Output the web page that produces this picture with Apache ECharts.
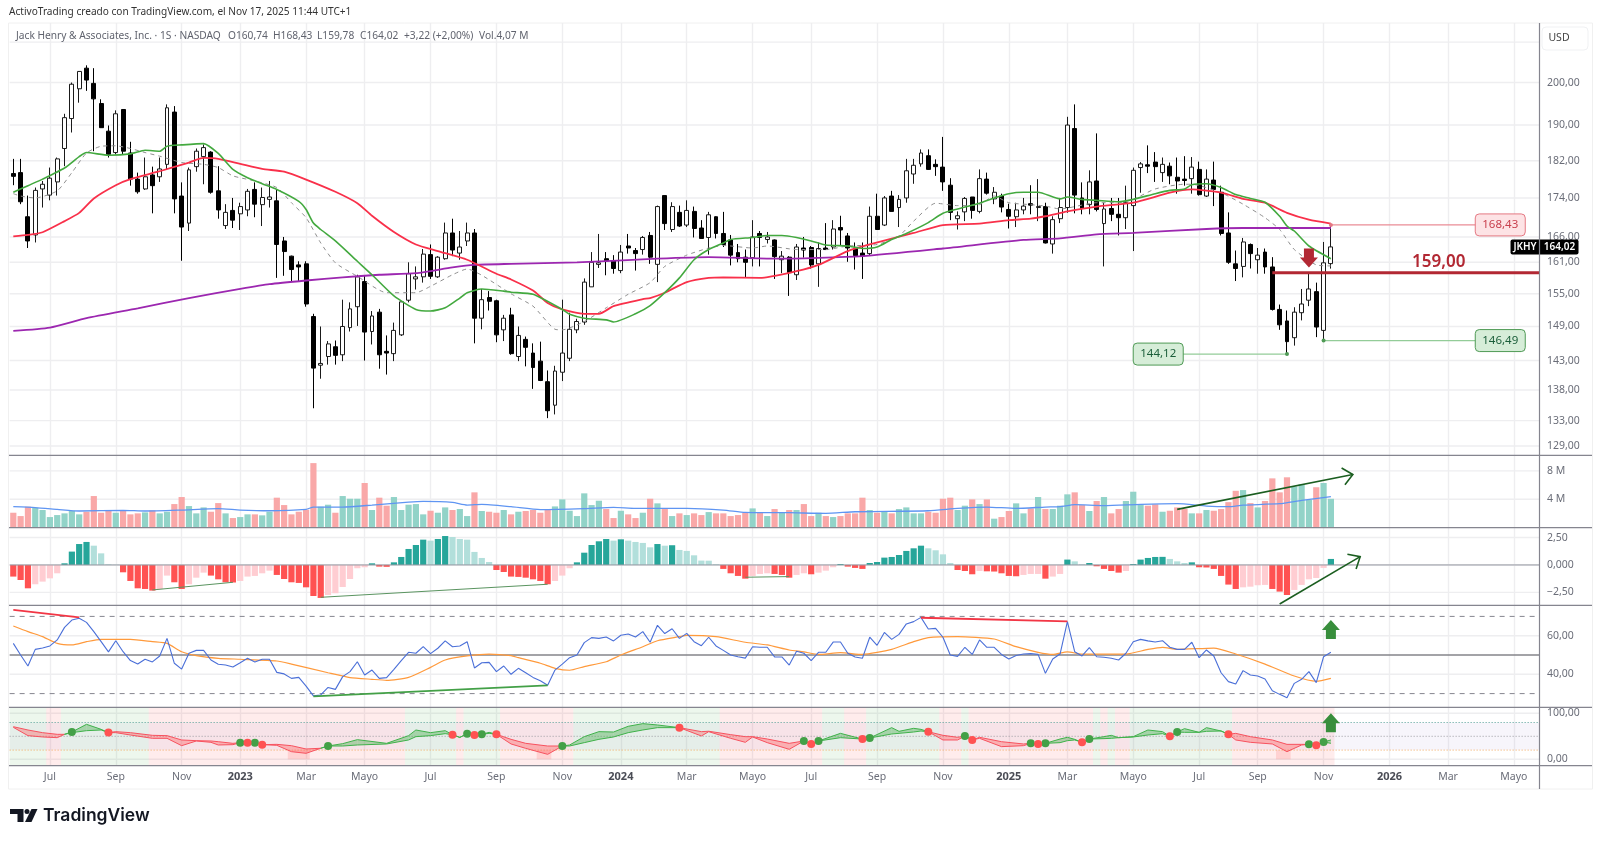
<!DOCTYPE html>
<html>
<head>
<meta charset="utf-8">
<title>JKHY</title>
<style>
html, body { margin: 0; padding: 0; background: #fff; }
#chart { width: 1600px; height: 842px; }
</style>
<script src="https://cdn.jsdelivr.net/npm/echarts@6/dist/echarts.min.js"></script>
</head>
<body>
<div id="chart"></div>
<script>
// weekly candles, one value per week
var open = [179.2,179.4,170.1,166.4,175.9,174.6,177.4,184.7,191.5,198.5,
	203.5,199.8,195,188.6,183.8,193.6,183.7,178,175.9,178.9,
	178.5,181.2,193,174.4,168.8,180.7,182.9,183.9,175.5,168.3,
	171.4,170.7,171.5,175.8,172.6,173.7,173.4,165.2,162.2,160.5,
	160.7,150.8,142.2,143.7,145.4,144,148.8,152.6,157.3,148.1,
	151.6,144.6,144.2,147.5,153.8,157.8,158.2,162.5,158.2,161.7,
	166.8,162.8,165.2,166.8,150.5,154.3,153.7,148.4,151.1,143.7,
	146.7,144.3,142.9,139.4,135.5,141,143.4,148.4,149.8,156.3,
	160.6,161.7,161.3,159.4,164.2,163.3,163.5,166.3,160.6,174.5,
	167.5,171,168.4,171.2,167.8,165.9,170.1,166.7,165.4,162.9,
	162,161.9,166.7,165.5,165.4,161.5,162,158.6,163.8,163.9,
	160.7,163.8,164,167.9,166.2,163.8,162.8,162.7,170.2,168.4,
	174.4,172,174,179.1,181.3,183.1,181.2,180.6,176.7,169.7,
	171.1,174.2,171.2,178,173.8,174.4,171.6,170.1,171.5,172.8,
	172,172.2,164.6,169.7,172,189.2,174,172.6,177.6,168.7,
	171.8,170.6,169.9,172.4,180.5,181.1,181.7,179.4,180.8,178.4,
	178,178.1,180.1,174.4,177.8,175.2,166.8,160.7,160.2,164.5,
	161.5,163,160.1,152.1,150,147,151.5,153.8,155.4,148.3,160.74];
var close = [178.6,173.2,165.2,175.6,176.9,178.2,182.4,191.7,199.6,202.7,
	200.6,196.1,189.4,183.4,192.6,184.1,178,175.3,178.5,176.6,
	180.2,194,173.8,168,180,184.1,184.9,175.2,171.5,171,
	169.4,172.2,175.4,172.7,174.1,174.2,164.5,163.1,159.6,160.1,
	153.1,141.7,142.5,145.9,143.9,149,152.2,158.2,148,150.9,
	144,144.3,148.3,153.5,158.8,158.2,162.6,158.3,162,166.8,
	163.4,164,166.8,150.5,153.9,153.6,147.5,150.5,144.2,147.4,
	145.3,141.8,139.6,134.6,141.2,144.3,148.5,149.9,157.2,161,
	160.9,161.3,159.8,163,163.8,162.7,165.9,162,172.2,168.7,
	172.2,168.2,171.4,167.7,165.7,170.5,166.7,164.5,162.4,161.7,
	161,166,165.9,166,162.1,162.2,159,164,163.4,160.5,
	163.7,163.5,167.6,167.4,163.8,162.3,162.2,170.2,167.5,174,
	171.2,173.7,179.8,181,183.7,180.1,180.7,177.4,171,170.3,
	173.9,171.4,178.1,175,175.2,172.1,170.2,171.5,172.3,172.5,
	172.2,164.8,169.5,172,190,174.6,171.8,177.4,171.6,171.7,
	170.6,169.9,173,179.9,181.3,180.8,180.7,181.2,178.7,177.6,
	177.7,180.6,174.7,178,175.8,166.7,161,159.8,165,162.7,
	162.4,160.1,152.1,149.3,146.3,151.6,153.1,155.9,148.9,160.9,164.02];
var high = [182.4,182.4,174.5,176.2,177.6,180.5,182.7,192.6,200,202.8,
	204.2,203.5,196,189.9,193.4,193.6,186.2,179.4,182.7,180.7,
	182.7,194.8,194.4,177.3,180.5,184.7,185.6,184.1,180.8,172.7,
	174,173,175.9,177.3,176.2,177.6,175.8,166,162.3,161.2,
	161.2,151.3,149,146.4,146.5,153.9,153.4,158.6,158.5,151.8,
	152.2,147.4,149.7,153.6,161,160.2,163.6,164.5,162.2,168.9,
	169.7,167.2,168.9,167.6,155.9,155.5,153.9,151.1,152.4,149,
	147.2,146,146.3,141.3,142.1,153.9,151.5,150.4,157.9,163,
	166.6,163,162.4,164.4,166.6,163.8,166.2,167,172.4,174.5,
	173.1,172.4,173.5,172.2,169.4,171.1,170.2,171.1,166.4,164.6,
	163.5,169.4,167.2,167,165.5,163.2,162.2,164.6,166,164.2,
	164.9,168.8,169.4,170.3,166.8,164.9,164.9,172.2,174.9,174.4,
	175.5,174.6,182.4,182.4,184.5,184.5,182.3,187.3,178.2,171.2,
	174.2,174.2,180.1,179.4,176.3,174.9,172.8,173,174,176.7,
	178,173,170.2,174,191.9,194.8,177.3,179.9,188.1,173,
	174,174,176.6,180.5,181.7,185.4,183.9,182.7,181.6,182.7,
	183,182.8,181.8,180.1,181.8,176.6,171,163.3,165.8,164.7,
	163.8,163.7,162,153,151.9,152.5,155.9,158.9,157.1,165,168.43];
var low = [176.7,172.7,163.8,164.9,172,173.5,174.5,180.8,188.3,195.2,
	198,184.1,189.4,182.7,183.4,183.4,176.6,174.9,175.7,170.8,
	177.4,180.1,170.8,161.3,167.2,179.6,176.9,174.9,169.7,167.6,
	167.8,167.4,170.2,170,168.2,172,158,158.4,157.2,157.4,
	152.6,135,139.9,142.3,142.3,142.9,148.1,149.1,143,145.8,
	141.6,140.6,142.9,147.3,153.4,155.8,157.1,157.8,158,161.5,
	162.2,161.5,164.2,146,148.5,151.9,146.2,146.4,144,142.9,
	142,138.2,139.5,133.4,134,139.5,142.9,147.8,149.3,156.3,
	159.9,158.5,158.8,158.9,162.7,159.4,162.5,160.7,157.2,167.4,
	167,168,168,165.9,165.7,162.5,165.7,164,160.4,161,
	158,160.2,160.2,164.7,157.8,158.9,154.6,157.6,161.9,159.8,
	156.3,163.4,163.5,164.2,161.1,159.6,157.8,162.3,167.5,168.2,
	171.2,168,173,177,180.7,180,178.7,175.5,169.4,167.5,
	169.2,169.7,170.8,174.7,172.7,171,167.7,168,170.6,170.6,
	169.2,164.7,162.7,168.8,170.9,170.8,170.6,170.6,171.2,160.2,
	169.2,166.3,167.6,163.2,175.1,179.3,177.4,177.4,176.9,174.9,
	176.6,174.9,174.5,174.2,172.3,166.3,160.7,157.4,158.1,159.8,
	158.8,158.8,151.9,148.4,144.12,145.6,150.1,152.7,147.1,146.49,159.78];

// moving averages, [week index, price]
var maGreen = [[0,175.2],[2,176.6],[4,178],[7,180.4],[9,182.9],[10,183.8],[13,183.2],[16,183.5],[18,184.3],[20,184.1],[21,185.2],[23,185.5],[26,185.8],[28,183.6],[30,180.1],[32,178.3],[34,177],[36,175.8],[39,173.3],[40,171.6],[41,168.8],[42,167.5],[44,165.2],[47,161.2],[49,158.6],[52,154.6],[55,152.1],[57,151.8],[59,152.4],[61,154.2],[62,155.2],[64,155.9],[67,155.5],[68,155.3],[71,154.9],[75,152.1],[76,151.2],[78,150.5],[81,150.2],[82,149.8],[85,151.3],[87,152.8],[89,155.2],[91,158],[93,161.5],[95,163.5],[97,164.8],[98,165.5],[101,165.9],[103,166.3],[105,166.3],[107,165.9],[109,165.2],[111,164.4],[114,164.2],[116,163.7],[118,164],[120,165.5],[122,166.7],[125,168.9],[127,170.8],[129,171.7],[132,172.9],[134,174],[136,174.9],[138,175.2],[140,175.2],[143,173.8],[144,174.2],[146,173.7],[148,173.5],[151,173.2],[153,173.7],[156,174.9],[158,175.6],[160,175.9],[161,176.8],[163,177],[165,176.2],[167,174.7],[169,173.9],[171,173.1],[173,170.2],[174,168.2],[175,167.2],[177,164.2],[180,161.7]];
var maRed = [[0,166.1],[2,166.4],[4,166.95],[7,169.2],[9,170.9],[11,173.9],[14,176.7],[16,178],[20,179.7],[24,181.6],[26,182.6],[28,182.4],[31,181.3],[34,180.2],[37,179.6],[40,177.9],[44,175.3],[47,172.9],[49,170.3],[52,167],[55,164.5],[58,163.2],[62,161.5],[66,158.8],[68,157.7],[71,155.6],[73,153.3],[75,152.1],[78,151.3],[80,151.3],[82,152.7],[86,154],[87,154.2],[89,155.2],[92,157.2],[95,158],[97,158.1],[102,158],[107,159.3],[110,160.5],[114,163.2],[117,164.5],[123,166.8],[127,168.4],[132,168.7],[136,169.4],[139,169.7],[141,170.2],[144,171.2],[148,172.2],[153,173],[158,175.1],[161,175.8],[165,175.1],[168,173.8],[171,173],[174,170.9],[177,169.5],[180,168.7]];
var maPurple = [[0,148.2],[5,148.8],[10,150.5],[17,152.3],[24,154.2],[31,155.9],[35,156.8],[40,157.5],[45,158.1],[50,158.6],[55,158.9],[60,160],[63,160.5],[68,160.7],[77,161],[88,161.7],[95,162],[104,161.7],[116,162.2],[127,163.7],[138,165.4],[143,165.7],[148,166.5],[153,166.8],[163,167.6],[168,167.8],[180,167.8]];
var maGray = [[0,174.9],[1,174.4],[3,174],[6,175.5],[8,179.4],[10,183.7],[12,185.2],[14,185.3],[16,184.7],[18,183.8],[20,183],[23,181.6],[26,181.2],[28,180.5],[30,178.7],[33,177.6],[36,176.2],[38,173],[40,169.9],[42,164.8],[44,160.9],[47,158.3],[51,155.2],[55,155.2],[57,156.4],[60,158.6],[62,159.7],[64,158.5],[68,155],[71,152.7],[74,148.5],[75,148.4],[78,149.9],[81,152.4],[84,154.9],[87,157.1],[89,160.2],[92,162.4],[95,163.8],[97,164.3],[101,163.8],[103,164.2],[107,163.5],[111,163.5],[114,164.2],[118,164.5],[121,166.2],[123,169.2],[126,172.9],[129,172.4],[132,172.6],[134,174.4],[136,173],[139,172.6],[141,172.3],[143,171.7],[148,173],[151,173],[153,173.7],[156,175.9],[160,176.9],[161,176.9],[165,175.1],[168,172.7],[171,169.9],[173,167.5],[175,163.5],[178,160.5],[180,160.3]];

// volume in millions
var volume = [2.11,1.64,2.96,2.82,2.49,1.5,1.78,2.02,2.39,1.88,
	2.25,4.46,2.11,2.39,2.11,2.39,1.88,2.02,2.16,2.44,
	2.02,2.25,3.33,4.32,3.05,2.02,2.86,2.25,3.47,2.02,
	1.36,1.5,1.88,1.88,1.74,2.25,4.23,3.19,1.88,2.25,
	2.54,9.1,2.96,3.24,2.11,4.46,4.08,4.08,6.3,2.49,
	4.23,3.1,4.32,2.49,3.24,3.33,1.88,2.39,2.11,2.86,
	2.49,2.63,1.64,4.98,2.35,2.25,2.11,2.49,1.88,2.25,
	2.35,2.49,2.11,2.58,3,3.99,2.39,1.64,4.84,3.19,
	3.8,2.63,1.36,2.39,1.88,1.36,2.11,4.08,3.43,2.63,
	1.64,2.02,1.78,2.02,1.78,2.2,2.02,2.02,1.64,1.78,
	2.11,2.72,2.11,1.64,2.63,2.2,2.49,2.49,3.33,1.64,
	2.11,1.64,1.5,1.64,2.02,2.02,4.23,2.49,2.11,2.25,
	2.02,2.63,2.86,2.02,2.02,2.25,2.11,4.08,4.23,2.49,
	3.1,3.99,3.33,3.99,1.27,1.5,2.35,3.43,2.02,2.72,
	4.32,2.63,2.63,3.1,4.7,4.98,3.19,2.35,3.76,4.32,
	2.02,2.63,3.76,5.07,3.29,3.1,3.29,2.25,2.39,2.86,
	2.63,2.02,2.02,2.49,2.39,2.63,3.6,5.2,5.3,3.47,
	2.86,3.76,6.95,4.98,7.1,5.8,6.1,3.9,5.7,6.3,4.07];
var volumeMa = [[0,2.96],[3,2.82],[6,2.58],[9,2.35],[15,2.44],[18,2.35],[23,2.49],[28,2.68],[31,2.49],[35,2.39],[40,2.58],[41,2.91],[45,2.91],[49,3.19],[54,3.6],[56,3.7],[60,3.57],[62,3.19],[64,3.29],[68,2.96],[72,2.54],[78,2.68],[82,2.86],[85,2.72],[92,2.72],[97,2.49],[100,2.16],[106,2.11],[111,2.02],[115,2.25],[125,2.39],[129,2.72],[133,2.91],[137,2.72],[141,2.91],[143,2.96],[145,3.24],[149,3.1],[154,3.29],[159,3.38],[163,3.05],[166,2.96],[168,3.19],[173,3.38],[176,3.85],[180,4.37]];

// MACD histogram
var macdHist = [-1.06,-1.37,-2.13,-1.76,-1.52,-1.22,-0.76,0.15,1.22,1.91,
	2.1,1.76,1.06,0.06,0.02,-0.67,-1.46,-2.13,-2.19,-2.34,
	-2.19,-0.97,-1.58,-2.19,-1.76,-1.16,-0.7,-0.97,-1.31,-1.58,
	-1.6,-1.46,-1.06,-1,-0.76,-0.52,-0.91,-1.28,-1.58,-1.64,
	-2.04,-2.83,-3.01,-2.74,-2.58,-2.01,-1.28,-0.3,-0.21,0.15,
	-0.15,-0.17,0.24,0.73,1.46,1.82,2.31,2.22,2.37,2.64,
	2.55,2.37,2.31,1.19,0.64,0.27,-0.46,-0.64,-1.06,-1.09,
	-1.16,-1.31,-1.46,-1.76,-1.46,-0.97,-0.3,0.24,1.12,1.82,
	2.16,2.37,2.22,2.34,2.22,2.1,2.01,1.61,1.91,1.76,
	1.8,1.37,1.28,0.88,0.4,0.39,0.06,-0.36,-0.76,-1,
	-1.25,-1,-0.82,-0.76,-0.82,-0.91,-1.16,-0.91,-0.76,-0.85,
	-0.7,-0.52,-0.21,0.09,-0.15,-0.27,-0.36,0.18,0.27,0.67,
	0.73,0.91,1.28,1.52,1.76,1.52,1.34,0.97,0.18,-0.46,
	-0.55,-0.85,-0.55,-0.58,-0.6,-0.76,-1,-1.03,-0.91,-0.82,
	-0.82,-1.25,-1.06,-0.82,0.49,0.33,0.06,0.18,-0.12,-0.36,
	-0.55,-0.7,-0.55,0.09,0.49,0.64,0.73,0.74,0.55,0.33,
	0.18,0.24,-0.21,-0.23,-0.36,-1,-1.79,-2.19,-2.04,-1.98,
	-1.85,-1.82,-2.19,-2.43,-2.74,-2.28,-1.82,-1.31,-1.19,-0.27,0.55];

// RSI and its average
var rsi = [56,50,44.3,52.9,53.6,54.7,57.8,64.3,68.1,69,
	66.9,62.1,56.9,51.6,57.4,51.7,47.1,45.3,47.8,46.4,
	49.5,58.6,45.7,42.7,50.9,52.4,52.4,47.4,45.2,44.8,
	43.8,46,48.3,46.4,47.8,47.8,41,40.2,37.9,38.4,
	33.9,28.8,29.3,33.2,32.2,38.8,41.4,46.5,39.6,42.2,
	37.9,38.3,42.6,47.1,51.4,50.9,54.3,50.7,53.5,57.3,
	54.3,54.7,56.9,43.3,46,46.2,41.4,44.3,40,43.1,
	40.8,38.4,36.7,34.3,42.2,45.3,48.6,50,56.4,59,
	58.6,59.3,57.3,60.2,60.9,59.3,62.1,56.6,65.4,61.1,
	63.6,58.6,61.2,56.9,54.8,59.2,54.7,52.4,50,49.1,
	48.4,54.3,54,54,49,49,44.8,51.9,50.9,47.1,
	51.4,51.4,56.7,56.7,50.9,49,48.3,59.2,55,61.7,
	58.1,60.7,66.1,67.3,69.5,63.5,63.8,59.2,50,49.3,
	54,50.3,57.8,54,54,50.3,47.9,49.7,50.5,50.7,
	50.3,40.5,47.9,50.5,67.3,51.7,49.5,53.8,49.1,48.8,
	48.3,47.4,50.9,56.9,58.1,57.3,56.7,57.4,54,52.9,
	52.9,56.6,48.6,52.6,49.5,40.8,36.2,35,41.9,39.6,
	39.1,37.6,31.5,29.6,27.9,35.3,37.4,41.4,35.7,49.1,51.4];
var rsiMa = [[0,65],[2,62.1],[4,59.5],[6,56],[8,55.2],[10,56.9],[12,58.1],[16,58.1],[19,56.9],[21,56],[23,51.7],[25,49.7],[28,48.3],[31,47.8],[36,46.9],[38,45.3],[43,40.8],[46,38.3],[49,37.4],[51,36.9],[54,38.4],[57,43.6],[59,47.4],[62,49.5],[65,50.5],[68,49.7],[69,48.6],[72,45.7],[74,43.1],[76,42.1],[78,44],[81,46.5],[83,50],[86,54.3],[88,57.4],[91,59.5],[92,60.2],[96,59.5],[100,56.6],[103,55.2],[106,52.6],[108,51.6],[110,50.3],[113,51.2],[116,50.3],[120,52.9],[123,56.9],[125,59],[129,59.5],[134,58.3],[137,54.3],[140,51.4],[142,50.3],[144,51.6],[146,50.5],[152,50.5],[155,52.9],[157,54],[159,52.9],[164,53.6],[167,50.5],[171,45.3],[175,39.1],[178,36.4],[180,37.9]];

// stochastic, sampled weeks
var stochIdx = [0,2,4,6,7,8,10,12,13,14,16,19,21,23,25,27,28,30,31,32,33,34,36,38,40,42,43,45,47,51,54,55,57,59,60,61,62,63,64,65,66,68,70,73,75,76,78,80,82,84,86,88,91,94,95,98,100,101,103,106,108,109,110,113,116,117,120,121,123,124,125,127,129,130,131,132,135,138,139,140,141,143,144,145,146,147,149,150,151,153,155,157,158,159,160,162,163,165,166,167,169,172,174,176,177,178,179,180];
var stochK = [69.5,51.4,48.5,47,54.3,59.3,76,65.1,58,57.9,52.8,45.6,45.6,29.6,39.8,36.9,31.1,31.8,36.2,36.2,36.2,31.8,30.4,16.6,13,24,28.9,34,42.7,34.7,51.4,63.7,57.9,62.2,53.6,47.5,55.7,52.8,54.3,58.6,54.3,33.3,23.8,10.8,28.9,31.1,49.2,60.1,59.3,71.7,77.5,74.6,68.8,50.7,60,45.6,36.9,48.5,36.2,21.7,39.8,33.3,39.8,56.4,44,46.3,68.8,60.8,67.3,65.1,59.9,42,42,50.7,42,45.6,27.5,29.6,34.7,33.3,34.7,44.1,47.8,43.4,36.9,44.1,49.2,52.1,47,49.2,63.7,60.1,50,59.3,66.6,58.6,68.8,61.5,54.3,42,36.9,33.3,16.6,31.1,32.5,30.4,37.6,42];
var stochD = [70.9,63.7,57.9,54.3,54.3,58,62.2,63.7,58,60.1,57.9,52.1,51.4,42,40.5,39.8,38.3,34.7,36.2,36.2,36.2,31.8,32.5,29.6,22.4,24,28.9,28.9,31.1,33.3,42,49.2,51.4,55.7,53.6,47.5,55.7,52.8,54.3,56.4,54.3,43.4,34.7,28.9,28.9,28.9,36.2,43.4,48.5,57.9,63.7,68.8,68.8,60.1,61,53.6,49.2,49.2,44.1,34.7,39.8,33.3,39.8,47,44,46.3,55,56.4,59.3,61.5,59.9,52.1,47.8,50.7,42,47.8,38.3,33.3,34.7,33.3,34.7,36.2,40.5,42,36.9,44.1,44.9,45.6,47,48.5,52.8,55.7,50,59.3,58.6,58.6,60.8,61.5,54.3,56.4,49.2,42,32.5,32.5,32.5,30.4,37.6,34.7];
var stochUpCross = [[8,59.3],[31,36.2],[33,36.2],[43,28.9],[62,55.7],[64,54.3],[75,28.9],[108,39.8],[110,39.8],[117,46.3],[130,50.7],[139,34.7],[141,34.7],[147,44.1],[159,59.3],[177,32.5],[179,37.6]];
var stochDownCross = [[13,58],[32,36.2],[34,31.8],[60,53.6],[63,52.8],[66,54.3],[91,68.8],[109,33.3],[116,44],[125,59.9],[131,42],[140,33.3],[146,36.9],[158,50],[166,54.3],[178,30.4]];
var upZones = [[0,4],[7,18],[54,60],[62,66],[77,96],[111,113],[117,126],[130,130],[148,148],[150,150],[153,166]];
var downZones = [[5,6],[19,53],[61,61],[67,76],[97,110],[114,116],[127,129],[131,147],[149,149],[151,152],[167,180]];
var oversoldZones = [[38,40],[72,73],[173,174]];

// hand drawn lines on the chart: [week, value, week, value]
var volumeArrow = [[159,2.58,183,7.5]];
var macdArrow = [[173,-3.56,184,0.76]];
var macdTrends = [[19,-2.28,30,-1.58],[42,-2.95,73,-1.76],[100,-1.12,106,-1.06]];
var rsiRedTrends = [[0,73.4,9,69.5],[124,69.3,144,67.4]];
var rsiGreenTrends = [[41,28.6,73,34.3]];

// tick labels
var xTickIdx = [5,14,23,31,40,48,57,66,75,83,92,101,109,118,127,136,144,153,162,170,179,188,196,205];
var xTickLabels = ['Jul','Sep','Nov','2023','Mar','Mayo','Jul','Sep','Nov','2024','Mar','Mayo','Jul','Sep','Nov','2025','Mar','Mayo','Jul','Sep','Nov','2026','Mar','Mayo'];
var priceTicks = [210,200,190,182,174,166,161,155,149,143,138,133,129];
var priceLabels = ['','200,00','190,00','182,00','174,00','166,00','161,00','155,00','149,00','143,00','138,00','133,00','129,00'];
var volumeTicks = [8,4];
var volumeLabels = ['8 M','4 M'];
var macdTicks = [2.5,0,-2.5];
var macdLabels = ['2,50','0,000','\u22122,50'];
var rsiTicks = [60,40];
var rsiLabels = ['60,00','40,00'];
var stochTicks = [100,0];
var stochLabels = ['100,00','0,00'];

// one label per week, future weeks included
var categories = [];
for (var w = 0; w < 209; w++) {
	categories.push(new Date(Date.UTC(2022, 4, 30 + w * 7)).toISOString().slice(0, 10));
}

var FONT = '"Noto Sans", sans-serif';
var GRID_LINE = '#eeeef0';
var AXIS_LINE = '#85858f';
var TEXT = '#6a6d78';
var RED_MARK = '#b22833';
var GREEN_MARK = '#388e3c';

var paneTop = [23, 455.3, 527.7, 605.3, 707.3];
var paneHeight = [432.3, 72.4, 77.6, 102, 58.4];
var paneMin = [127.55, 0, -3.68, 22.9, -13.9];
var paneMax = [214.9, 10.2, 3.4, 75.75, 113];

function isXTick(index) {
	return xTickIdx.indexOf(index) >= 0;
}

var grids = [], xAxes = [], yAxes = [];
for (var p = 0; p < 5; p++) {
	grids.push({ left: 9.64, width: 1529.88, top: paneTop[p], height: paneHeight[p], outerBoundsMode: 'none' });
	xAxes.push({
		type: 'category',
		gridIndex: p,
		data: categories,
		axisLine: { show: false },
		axisTick: { show: false },
		splitLine: { show: true, alignWithLabel: true, interval: isXTick, lineStyle: { color: GRID_LINE, width: 1.4 } },
		axisLabel: p < 4 ? { show: false } : {
			show: true,
			interval: isXTick,
			margin: 6,
			hideOverlap: false,
			fontFamily: FONT,
			fontSize: 10.5,
			color: TEXT,
			formatter: function (value, index) {
				var label = xTickLabels[xTickIdx.indexOf(index)];
				return label.length == 4 && label != 'Mayo' ? '{year|' + label + '}' : label;
			},
			rich: { year: { fontFamily: FONT, fontSize: 11, fontWeight: 'bold', color: '#4a4c55' } }
		}
	});
	yAxes.push({
		type: p == 0 ? 'log' : 'value',
		gridIndex: p,
		min: paneMin[p],
		max: paneMax[p],
		show: false,
		splitLine: { show: false }
	});
}

// horizontal grid line plus its label in the price scale
function tickSeries(pane, ticks, labels) {
	return {
		type: 'custom', xAxisIndex: pane, yAxisIndex: pane, z: 1, silent: true,
		data: ticks.map(function (v) { return [0, v]; }),
		encode: { x: 0, y: 1 },
		renderItem: function (params, api) {
			var g = params.coordSys;
			var y = api.coord([0, ticks[params.dataIndex]])[1];
			return { type: 'group', children: [
				{ type: 'line', shape: { x1: g.x, y1: y, x2: g.x + g.width, y2: y }, style: { stroke: GRID_LINE, lineWidth: 1.4 } },
				{ type: 'text', x: g.x + g.width + 7.5, y: y, style: { text: labels[params.dataIndex], fill: TEXT, font: '10.5px ' + FONT, verticalAlign: 'middle' } }
			] };
		}
	};
}

function levelSeries(pane, levels, stroke, width, dash, z) {
	return {
		type: 'custom', xAxisIndex: pane, yAxisIndex: pane, z: z, silent: true,
		data: levels.map(function (v) { return [0, v]; }),
		encode: { x: 0, y: 1 },
		renderItem: function (params, api) {
			var g = params.coordSys;
			var y = api.coord([0, levels[params.dataIndex]])[1];
			return { type: 'line', shape: { x1: g.x, y1: y, x2: g.x + g.width, y2: y }, style: { stroke: stroke, lineWidth: width, lineDash: dash } };
		}
	};
}

function lineSeries(pane, points, color, width, z, dash) {
	return {
		type: 'line', xAxisIndex: pane, yAxisIndex: pane, z: z, silent: true,
		data: points, showSymbol: false, smooth: 0.2,
		lineStyle: { color: color, width: width, type: dash || 'solid' }
	};
}

function trendSeries(pane, rows, color, width, withHead, z) {
	return {
		type: 'custom', xAxisIndex: pane, yAxisIndex: pane, z: z || 6, silent: true,
		data: rows.map(function (r) { return [r[0], r[1]]; }),
		encode: { x: 0, y: 1 },
		renderItem: function (params, api) {
			var r = rows[params.dataIndex];
			var a = api.coord([r[0], r[1]]);
			var b = api.coord([r[2], r[3]]);
			var style = { stroke: color, lineWidth: width, fill: null };
			var children = [{ type: 'line', shape: { x1: a[0], y1: a[1], x2: b[0], y2: b[1] }, style: style }];
			if (withHead) {
				var angle = Math.atan2(b[1] - a[1], b[0] - a[0]);
				children.push({ type: 'polyline', shape: { points: [
					[b[0] - 13 * Math.cos(angle - 0.72), b[1] - 13 * Math.sin(angle - 0.72)],
					[b[0], b[1]],
					[b[0] - 13 * Math.cos(angle + 0.72), b[1] - 13 * Math.sin(angle + 0.72)]
				] }, style: style });
			}
			return { type: 'group', children: children };
		}
	};
}

// block arrow, dir 1 points up and -1 points down, tip on the value
function arrowSeries(pane, idx, value, dir, color) {
	return {
		type: 'custom', xAxisIndex: pane, yAxisIndex: pane, z: 7, silent: true,
		data: [[idx, value]],
		encode: { x: 0, y: 1 },
		renderItem: function (params, api) {
			var c = api.coord([idx, value]);
			var shape = [[0, 0], [9, 10], [5, 10], [5, 19], [-5, 19], [-5, 10], [-9, 10]];
			return { type: 'polygon', shape: { points: shape.map(function (s) { return [c[0] + s[0], c[1] + dir * s[1]]; }) }, style: { fill: color } };
		}
	};
}

// price level with a rounded tag
function tagSeries(idx, price, tagIdx, dx, text, lineColor, fill, border, textColor) {
	return {
		type: 'custom', xAxisIndex: 0, yAxisIndex: 0, z: 7, silent: true,
		data: [[idx, price]],
		encode: { x: 0, y: 1 },
		renderItem: function (params, api) {
			var a = api.coord([idx, price]);
			var b = api.coord([tagIdx, price]);
			var cx = b[0] + dx;
			return { type: 'group', children: [
				{ type: 'line', shape: { x1: a[0], y1: a[1], x2: cx, y2: a[1] }, style: { stroke: lineColor, lineWidth: 1.3 } },
				{ type: 'circle', shape: { cx: a[0], cy: a[1], r: 2 }, style: { fill: border } },
				{ type: 'rect', shape: { x: cx - 25, y: a[1] - 11, width: 50, height: 22, r: 4 }, style: { fill: fill, stroke: border, lineWidth: 1 } },
				{ type: 'text', x: cx, y: a[1], style: { text: text, fill: textColor, font: '11.5px ' + FONT, align: 'center', verticalAlign: 'middle' } }
			] };
		}
	};
}

function zoneSeries(zones, color, low, high) {
	return {
		type: 'custom', xAxisIndex: 4, yAxisIndex: 4, z: 1, silent: true,
		data: zones.map(function (z) { return [z[0], 0]; }),
		encode: { x: 0, y: 1 },
		renderItem: function (params, api) {
			var z = zones[params.dataIndex];
			var band = api.size([1, 0])[0];
			var a = api.coord([z[0], high]);
			var b = api.coord([z[1], low]);
			return { type: 'rect', shape: { x: a[0] - band / 2, y: a[1], width: b[0] - a[0] + band, height: b[1] - a[1] }, style: { fill: color } };
		}
	};
}

var candleData = open.map(function (o, i) { return [o, close[i], low[i], high[i]]; });

var volumeData = volume.map(function (v, i) {
	return { value: v, itemStyle: { color: close[i] >= open[i] ? '#92d3c8' : '#f9a8a8' } };
});

var macdData = macdHist.map(function (v, i) {
	var prev = i > 0 ? macdHist[i - 1] : 0;
	var color;
	if (v >= 0) {
		color = v >= prev ? '#26a69a' : '#b2dfdb';
	} else {
		color = v < prev ? '#ff5252' : '#ffcdd2';
	}
	return { value: v, itemStyle: { color: color } };
});

var stochRows = stochIdx.slice(1).map(function (x, i) { return [stochIdx[i], stochK[i]]; });

var series = [
	tickSeries(0, priceTicks, priceLabels),
	tickSeries(1, volumeTicks, volumeLabels),
	tickSeries(2, macdTicks, macdLabels),
	tickSeries(3, rsiTicks, rsiLabels),
	tickSeries(4, stochTicks, stochLabels),

	{
		type: 'candlestick', xAxisIndex: 0, yAxisIndex: 0, z: 2, silent: true,
		data: candleData, barWidth: 4.4,
		itemStyle: { color: '#ffffff', color0: '#000000', borderColor: '#1a1a1a', borderColor0: '#000000', borderWidth: 1 }
	},
	lineSeries(0, maGray, '#8f8f8f', 1, 3, [4, 4]),
	lineSeries(0, maPurple, '#9c27b0', 1.8, 4),
	lineSeries(0, maRed, '#f9304a', 1.8, 4),
	lineSeries(0, maGreen, '#43a93f', 1.6, 4),

	{ type: 'bar', xAxisIndex: 1, yAxisIndex: 1, z: 2, silent: true, data: volumeData, barWidth: 6.2 },
	lineSeries(1, volumeMa, '#5f95f2', 1.3, 3),
	trendSeries(1, volumeArrow, '#1b5e20', 1.6, true),

	{ type: 'bar', xAxisIndex: 2, yAxisIndex: 2, z: 2, silent: true, data: macdData, barWidth: 6.2 },
	levelSeries(2, [0], '#9598a1', 1, null, 3),
	trendSeries(2, macdTrends, '#5a9460', 1, false),
	trendSeries(2, macdArrow, '#1b5e20', 1.6, true),

	levelSeries(3, [50], '#85858a', 1.5, null, 2),
	levelSeries(3, [70, 30], '#85858f', 1, [5, 5], 2),
	lineSeries(3, rsiMa, '#ff9a3c', 1.2, 3),
	{
		type: 'line', xAxisIndex: 3, yAxisIndex: 3, z: 4, silent: true,
		data: rsi, showSymbol: false,
		lineStyle: { color: '#4a6fd8', width: 1.1 }
	},
	trendSeries(3, rsiRedTrends, '#f23645', 1.8, false),
	trendSeries(3, rsiGreenTrends, '#43a047', 1.8, false),
	arrowSeries(3, 180, 68.1, 1, GREEN_MARK),

	zoneSeries([[0, 208]], 'rgba(126,87,194,0.06)', 20, 80),
	zoneSeries(upZones, 'rgba(76,175,80,0.1)', paneMin[4], paneMax[4]),
	zoneSeries(downZones, 'rgba(255,82,82,0.11)', paneMin[4], paneMax[4]),
	zoneSeries(oversoldZones, 'rgba(255,82,82,0.17)', 0, 20),
	levelSeries(4, [80], '#4f9e94', 1, [1, 2], 2),
	levelSeries(4, [50], '#9a9aa0', 1, [1, 2], 2),
	levelSeries(4, [20], '#f2a65a', 1, [1, 2], 2),
	{
		type: 'custom', xAxisIndex: 4, yAxisIndex: 4, z: 3, silent: true,
		data: stochRows,
		encode: { x: 0, y: 1 },
		renderItem: function (params, api) {
			var i = params.dataIndex;
			var k1 = api.coord([stochIdx[i], stochK[i]]);
			var k2 = api.coord([stochIdx[i + 1], stochK[i + 1]]);
			var d1 = api.coord([stochIdx[i], stochD[i]]);
			var d2 = api.coord([stochIdx[i + 1], stochD[i + 1]]);
			var up = stochK[i] + stochK[i + 1] >= stochD[i] + stochD[i + 1];
			var line = up ? '#3fb24a' : '#f7525f';
			return { type: 'group', children: [
				{ type: 'polygon', shape: { points: [k1, k2, d2, d1] }, style: { fill: up ? 'rgba(76,175,80,0.42)' : 'rgba(255,82,82,0.36)' } },
				{ type: 'line', shape: { x1: k1[0], y1: k1[1], x2: k2[0], y2: k2[1] }, style: { stroke: line, lineWidth: 1 } },
				{ type: 'line', shape: { x1: d1[0], y1: d1[1], x2: d2[0], y2: d2[1] }, style: { stroke: line, lineWidth: 1 } }
			] };
		}
	},
	{ type: 'scatter', xAxisIndex: 4, yAxisIndex: 4, z: 4, silent: true, data: stochUpCross, symbolSize: 8, itemStyle: { color: '#43a047', opacity: 1 } },
	{ type: 'scatter', xAxisIndex: 4, yAxisIndex: 4, z: 4, silent: true, data: stochDownCross, symbolSize: 8, itemStyle: { color: '#ff5252', opacity: 1 } },
	arrowSeries(4, 180, 100, 1, GREEN_MARK),

	// support level drawn by hand
	{
		type: 'custom', xAxisIndex: 0, yAxisIndex: 0, z: 6, silent: true,
		data: [[172, 159]],
		encode: { x: 0, y: 1 },
		renderItem: function (params, api) {
			var a = api.coord([172, 159]);
			var t = api.coord([195, 159]);
			var g = params.coordSys;
			return { type: 'group', children: [
				{ type: 'line', shape: { x1: a[0], y1: a[1], x2: g.x + g.width, y2: a[1] }, style: { stroke: RED_MARK, lineWidth: 3 } },
				{ type: 'text', x: t[0] - 2, y: a[1] - 10.5, style: { text: '159,00', fill: RED_MARK, font: '600 17px ' + FONT, align: 'center', verticalAlign: 'middle' } }
			] };
		}
	},
	arrowSeries(0, 177, 160, -1, RED_MARK),
	tagSeries(180, 168.43, 203, 1, '168,43', '#ea8c96', '#fde3e5', '#e57883', '#c8404e'),
	tagSeries(179, 146.49, 203, 1, '146,49', '#93cc98', '#d6edd8', '#4f9a55', '#1b5e3a'),
	tagSeries(174, 144.12, 156, 3, '144,12', '#93cc98', '#d6edd8', '#4f9a55', '#1b5e3a'),

	// last price in the scale
	{
		type: 'custom', xAxisIndex: 0, yAxisIndex: 0, z: 8, silent: true,
		data: [[180, 164.02]],
		encode: { x: 0, y: 1 },
		renderItem: function (params, api) {
			var y = api.coord([180, 164.02])[1];
			var g = params.coordSys;
			var r = g.x + g.width;
			return { type: 'group', children: [
				{ type: 'rect', shape: { x: r - 29, y: y - 7.5, width: 68, height: 15, r: 2 }, style: { fill: '#000' } },
				{ type: 'text', x: r - 14.5, y: y, style: { text: 'JKHY', fill: '#fff', font: '600 10px ' + FONT, align: 'center', verticalAlign: 'middle' } },
				{ type: 'text', x: r + 20, y: y, style: { text: '164,02', fill: '#fff', font: '600 10px ' + FONT, align: 'center', verticalAlign: 'middle' } }
			] };
		}
	}
];

function hline(y, x1, x2, color) {
	return { type: 'line', z: 20, silent: true, shape: { x1: x1, y1: y, x2: x2, y2: y }, style: { stroke: color, lineWidth: 1.2 } };
}

function legendText(x, text) {
	return { type: 'text', z: 20, silent: true, x: x, y: 36, style: { text: text, fill: '#60636e', font: '10.2px ' + FONT, verticalAlign: 'middle' } };
}

var graphics = [
	{ type: 'rect', z: 0, silent: true, shape: { x: 8.5, y: 23, width: 1584, height: 766 }, style: { fill: null, stroke: '#f0f0f0', lineWidth: 1 } },
	{ type: 'text', z: 20, silent: true, x: 9, y: 12.5, style: { text: 'ActivoTrading creado con TradingView.com, el Nov 17, 2025 11:44 UTC+1', fill: '#333', font: '10.1px ' + FONT, verticalAlign: 'middle' } },
	legendText(16, 'Jack Henry & Associates, Inc. \u00b7 1S \u00b7 NASDAQ'),
	legendText(228, 'O160,74'),
	legendText(273, 'H168,43'),
	legendText(317, 'L159,78'),
	legendText(360, 'C164,02'),
	legendText(404, '+3,22 (+2,00%)'),
	legendText(479, 'Vol.4,07 M'),
	{ type: 'rect', z: 20, silent: true, shape: { x: 1542, y: 27, width: 46, height: 23, r: 4 }, style: { fill: '#fff', stroke: '#f0f1f3', lineWidth: 1 } },
	{ type: 'text', z: 21, silent: true, x: 1559, y: 38.5, style: { text: 'USD', fill: '#444', font: '10.5px ' + FONT, align: 'center', verticalAlign: 'middle' } },
	hline(455.3, 9, 1592, AXIS_LINE),
	hline(527.7, 9, 1592, AXIS_LINE),
	hline(605.3, 9, 1592, AXIS_LINE),
	hline(707.3, 9, 1592, AXIS_LINE),
	hline(765.7, 9, 1592, AXIS_LINE),
	{ type: 'line', z: 20, silent: true, shape: { x1: 1539.5, y1: 23, x2: 1539.5, y2: 789 }, style: { stroke: AXIS_LINE, lineWidth: 1.2 } },
	// logo
	{ type: 'polygon', z: 20, silent: true, shape: { points: [[10, 809], [23.5, 809], [23.5, 822], [17.5, 822], [17.5, 814], [10, 814]] }, style: { fill: '#131722' } },
	{ type: 'circle', z: 20, silent: true, shape: { cx: 27, cy: 811.5, r: 2.5 }, style: { fill: '#131722' } },
	{ type: 'polygon', z: 20, silent: true, shape: { points: [[31.5, 809], [37.5, 809], [31.5, 822], [25, 822]] }, style: { fill: '#131722' } },
	{ type: 'text', z: 20, silent: true, x: 43, y: 816, style: { text: 'TradingView', fill: '#131722', font: '600 17.5px Inter, ' + FONT, verticalAlign: 'middle' } }
];

var myChart = echarts.init(document.getElementById('chart'), null, { renderer: 'canvas' });
myChart.setOption({
	animation: false,
	backgroundColor: '#ffffff',
	grid: grids,
	xAxis: xAxes,
	yAxis: yAxes,
	series: series,
	graphic: { elements: graphics }
});
</script>
</body>
</html>
